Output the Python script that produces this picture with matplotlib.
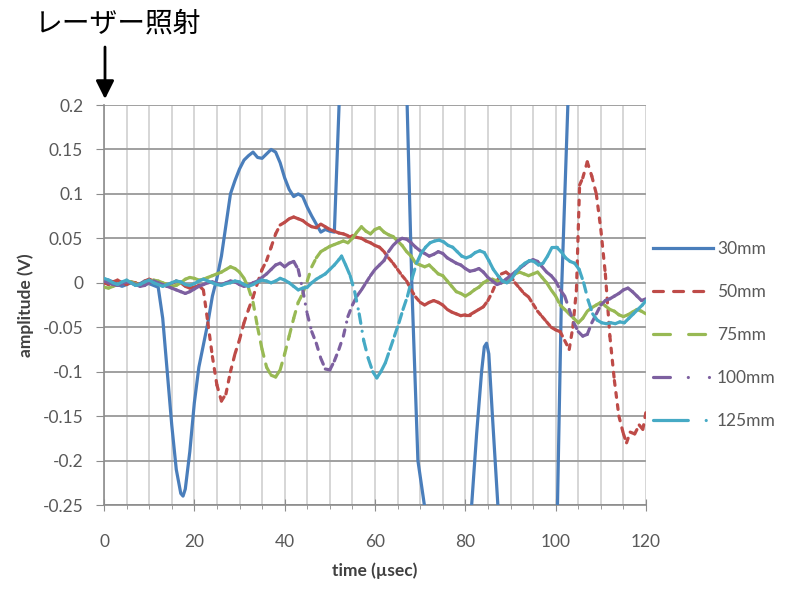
import numpy as np
import matplotlib.pyplot as plt
from matplotlib.collections import LineCollection
from matplotlib.lines import Line2D

# measured waveforms, amplitude (V) against time (usec)
t_30 = list(range(0, 17)) + [17, 17.5, 18, 19, 20, 21, 22, 23, 24, 25, 26, 27, 28, 29, 30, 31, 32, 33, 34, 35, 36,
                             37, 38, 39, 40, 41, 42, 43, 44, 45, 46, 47, 48, 49, 50, 51, 53, 66.6, 68.2, 69.5, 71.5,
                             73, 80.5, 81.4, 82.5, 83.6, 84.2, 84.7, 85.2, 86, 87.2, 88, 100, 100.4, 101.3, 102.7,
                             103.5, 120]
v_30 = [0.004, 0.003, 0.001, -0.002, -0.004, -0.002, 0.0, -0.003, -0.001, 0.002, -0.001, -0.003, -0.005, -0.04,
        -0.1, -0.16, -0.21, -0.237, -0.24, -0.232, -0.19, -0.135, -0.095, -0.07, -0.045, -0.015, 0.005, 0.03, 0.065,
        0.1, 0.115, 0.128, 0.138, 0.143, 0.147, 0.141, 0.14, 0.145, 0.15, 0.147, 0.135, 0.118, 0.105, 0.097, 0.1,
        0.097, 0.085, 0.075, 0.066, 0.057, 0.06, 0.058, 0.057, 0.33, 0.3, -0.01, -0.2, -0.27, -0.32, -0.32, -0.25,
        -0.17, -0.1, -0.072, -0.068, -0.08, -0.15, -0.25, -0.32, -0.32, -0.25, -0.01, 0.2, 0.32, 0.32]

t_50 = list(range(0, 102)) + [102, 103, 103.8, 104.6, 105.3, 106, 107, 108, 109, 110, 111, 112, 113, 114, 115,
                              115.7, 116.5, 117.5, 118.5, 119.3, 120]
v_50 = [0.0, -0.002, 0.001, 0.003, 0.0, -0.002, 0.001, 0.0, -0.003, 0.002, 0.004, 0.002, 0.0, -0.002, -0.004,
        -0.001, 0.002, 0.0, -0.004, -0.006, -0.005, -0.003, -0.008, -0.045, -0.083, -0.115, -0.133, -0.125, -0.1,
        -0.08, -0.064, -0.045, -0.03, -0.016, 0.0, 0.015, 0.025, 0.04, 0.055, 0.065, 0.068, 0.072, 0.074, 0.072,
        0.07, 0.066, 0.063, 0.062, 0.066, 0.063, 0.06, 0.058, 0.056, 0.055, 0.053, 0.053, 0.051, 0.05, 0.047, 0.045,
        0.042, 0.04, 0.035, 0.028, 0.022, 0.015, 0.008, 0.002, -0.008, -0.016, -0.022, -0.025, -0.022, -0.02,
        -0.022, -0.025, -0.03, -0.033, -0.035, -0.037, -0.036, -0.036, -0.033, -0.03, -0.027, -0.02, -0.01, 0.002,
        0.01, 0.012, 0.008, 0.0, -0.006, -0.012, -0.016, -0.024, -0.032, -0.038, -0.044, -0.05, -0.053, -0.055,
        -0.065, -0.075, -0.05, -0.008, 0.11, 0.118, 0.136, 0.12, 0.1, 0.06, 0.01, -0.06, -0.11, -0.15, -0.17,
        -0.18, -0.168, -0.17, -0.16, -0.165, -0.145]

t_75 = list(range(0, 121))
v_75 = [-0.005, -0.006, -0.004, -0.002, 0.0, 0.002, 0.001, -0.001, -0.003, -0.002, 0.0, 0.003, 0.002, 0.0, -0.002,
        -0.004, -0.003, 0.0, 0.004, 0.006, 0.005, 0.003, 0.004, 0.006, 0.008, 0.01, 0.012, 0.015, 0.018, 0.016,
        0.012, 0.005, -0.006, -0.022, -0.05, -0.075, -0.095, -0.104, -0.106, -0.098, -0.08, -0.06, -0.04, -0.022,
        -0.012, 0.002, 0.018, 0.028, 0.035, 0.038, 0.041, 0.043, 0.045, 0.047, 0.045, 0.05, 0.057, 0.063, 0.058,
        0.055, 0.06, 0.062, 0.057, 0.054, 0.052, 0.047, 0.042, 0.035, 0.03, 0.022, 0.02, 0.018, 0.02, 0.015, 0.01,
        0.008, 0.002, -0.004, -0.01, -0.012, -0.015, -0.012, -0.008, -0.005, 0.0, 0.003, 0.004, 0.002, 0.0, 0.003,
        0.006, 0.01, 0.012, 0.01, 0.008, 0.01, 0.012, 0.006, 0.0, -0.008, -0.015, -0.025, -0.03, -0.035, -0.04,
        -0.045, -0.04, -0.032, -0.028, -0.025, -0.022, -0.026, -0.03, -0.032, -0.036, -0.038, -0.036, -0.033, -0.03,
        -0.032, -0.035]

t_100 = list(range(0, 121))
v_100 = [0.002, 0.0, -0.002, -0.003, -0.001, 0.001, 0.0, -0.002, -0.004, -0.003, 0.0, 0.002, 0.0, -0.002, -0.004,
         -0.006, -0.008, -0.01, -0.012, -0.01, -0.007, -0.004, -0.002, 0.0, 0.001, -0.001, -0.002, 0.0, 0.002, 0.001,
         -0.002, -0.004, -0.003, 0.0, 0.002, 0.006, 0.01, 0.015, 0.02, 0.022, 0.018, 0.022, 0.024, 0.015, -0.008,
         -0.035, -0.055, -0.068, -0.085, -0.097, -0.098, -0.088, -0.075, -0.06, -0.038, -0.025, -0.015, -0.008, 0.0,
         0.008, 0.015, 0.02, 0.025, 0.035, 0.042, 0.047, 0.05, 0.049, 0.045, 0.04, 0.036, 0.033, 0.03, 0.032, 0.035,
         0.033, 0.028, 0.025, 0.022, 0.02, 0.016, 0.013, 0.014, 0.016, 0.012, 0.006, 0.002, -0.002, 0.0, 0.004,
         0.008, 0.012, 0.016, 0.02, 0.024, 0.026, 0.024, 0.018, 0.012, 0.008, 0.002, -0.008, -0.015, -0.03, -0.045,
         -0.055, -0.06, -0.058, -0.045, -0.035, -0.025, -0.02, -0.018, -0.015, -0.012, -0.008, -0.006, -0.01,
         -0.015, -0.02, -0.018]

t_125 = list(range(0, 53)) + [52.6, 53.5, 54.5, 55.5, 56.5, 57.5, 58.5, 59.5, 60.4, 61.3, 62.3, 63.3, 64.3, 65.3,
                              66.2, 67.2, 68.2, 69.2, 70.2, 71.2, 72.2, 73.2, 74.2, 75.2, 76.2, 77.2, 78.2, 79.2,
                              80.2, 81.2, 82.2, 83.2, 84.2, 85.2, 86.2, 87.2, 88.2, 89.2, 90.2, 91.2, 92.2, 93.2,
                              94.2, 95.2, 96.2, 97.2, 98.2, 99.2, 100.2, 101.2, 102.2, 103.2, 104.2, 105.2, 106.2,
                              107.2, 108.2, 109.2, 110.2, 111.2, 112.2, 113.2, 114.2, 115.2, 116.2, 117.2, 118.2,
                              119.2, 120]
v_125 = [0.005, 0.003, 0.0, -0.002, 0.001, 0.003, 0.0, -0.003, -0.002, 0.001, 0.003, 0.0, -0.002, -0.004, -0.002,
         0.0, 0.002, 0.001, -0.002, -0.003, -0.001, 0.002, 0.004, 0.002, 0.0, -0.002, -0.003, -0.001, 0.0, 0.002,
         0.001, -0.002, -0.004, -0.002, 0.001, 0.003, 0.002, 0.0, 0.002, 0.005, 0.003, 0.0, -0.004, -0.008, -0.006,
         -0.005, 0.0, 0.004, 0.007, 0.01, 0.015, 0.02, 0.026, 0.03, 0.02, 0.008, -0.01, -0.035, -0.065, -0.085,
         -0.1, -0.107, -0.1, -0.09, -0.075, -0.06, -0.045, -0.03, -0.015, 0.005, 0.022, 0.033, 0.04, 0.045, 0.047,
         0.048, 0.046, 0.042, 0.04, 0.035, 0.03, 0.028, 0.03, 0.034, 0.036, 0.034, 0.025, 0.015, 0.008, 0.002, 0.0,
         0.004, 0.012, 0.018, 0.022, 0.025, 0.024, 0.02, 0.022, 0.03, 0.04, 0.04, 0.035, 0.028, 0.024, 0.022, 0.015,
         0.0, -0.02, -0.035, -0.042, -0.045, -0.046, -0.045, -0.046, -0.044, -0.045, -0.04, -0.035, -0.03, -0.025,
         -0.02]

labels = ['30mm', '50mm', '75mm', '100mm', '125mm']
colors = ['#4a7ebb', '#be4b48', '#98b954', '#7d60a0', '#46aac5']
# dash patterns in units of line width (None = solid): short ones for the curves,
# longer ones for the legend keys
line_dashes = [None, (1.5, 2.3), (2.2, 2.5), (2.0, 2.5, 0.01, 2.5, 0.01, 2.5), (3.0, 2.5, 0.01, 2.5)]
key_dashes = [None, (3.1, 3.2), (5.3, 5.7), (5.3, 5.6, 0.01, 6.6, 0.01, 6), (10.9, 5.6, 0.01, 6)]
series = [(t_30, v_30), (t_50, v_50), (t_75, v_75), (t_100, v_100), (t_125, v_125)]

LW = 2.3
TXT = '#404040'
FONT = 'Lato'

fig = plt.figure(figsize=(7.9, 5.92), dpi=100)
ax = fig.add_axes([104 / 790, 87 / 592, 542 / 790, 400 / 592])

handles = []
for (t, v), col, ds, ks in zip(series, colors, line_dashes, key_dashes):
    if ds is None:
        ax.plot(t, v, color=col, lw=LW, solid_capstyle='round', solid_joinstyle='round', zorder=3)
        handles.append(Line2D([], [], color=col, lw=LW))
    else:
        # each segment restarts the dash pattern, so dense flat parts look solid
        pts = np.column_stack([t, v])
        segs = np.stack([pts[:-1], pts[1:]], axis=1)
        lc = LineCollection(segs, colors=col, linewidths=LW, linestyles=[(0, ds)],
                            capstyle='round', zorder=3)
        ax.add_collection(lc)
        handles.append(Line2D([], [], color=col, lw=LW, linestyle=(0, ks), dash_capstyle='round'))

ax.set_xlim(0, 120)
ax.set_ylim(-0.25, 0.2)
ax.set_xticks(np.arange(0, 121, 20))
ax.set_xticks(np.arange(0, 121, 5), minor=True)
yt = np.round(np.arange(-0.25, 0.201, 0.05), 2)
ax.set_yticks(yt)
ax.set_yticklabels([f'{y:g}' if y != 0 else '0' for y in yt])

ax.grid(axis='y', which='major', color='#a0a0a0', lw=1.4)
ax.grid(axis='x', which='both', color='#d0d0d0', lw=1.2)
ax.set_axisbelow(True)

for s in ['top', 'right']:
    ax.spines[s].set_visible(False)
for s in ['left', 'bottom']:
    ax.spines[s].set_color('#8c8c8c')
    ax.spines[s].set_linewidth(1.2)

ax.tick_params(axis='x', which='major', direction='inout', length=8, color='#8c8c8c', pad=17)
ax.tick_params(axis='x', which='minor', direction='out', length=3, color='#8c8c8c')
ax.tick_params(axis='y', direction='out', length=6, color='#8c8c8c', pad=9)
for lbl in ax.get_xticklabels() + ax.get_yticklabels():
    lbl.set_fontfamily(FONT)
    lbl.set_fontsize(12.5)
    lbl.set_color('#595959')

ax.set_xlabel('time (µsec)', fontsize=12.5, fontweight='bold', family=FONT, color=TXT, labelpad=9)
ax.set_ylabel('amplitude (V)', fontsize=12.5, fontweight='bold', family=FONT, color=TXT, labelpad=6)

leg = fig.legend(handles, labels, loc='upper left', bbox_to_anchor=(653 / 790, 1 - 241 / 592),
                 frameon=False, handlelength=3.45, handletextpad=0.23, labelspacing=1.56,
                 borderpad=0, borderaxespad=0, prop={'family': FONT, 'size': 12.5})
for txt in leg.get_texts():
    txt.set_color('#595959')

fig.text(35 / 790, 1 - 23 / 592, 'レーザー照射', fontsize=20, va='center', ha='left',
         family=['Noto Sans CJK JP', 'DejaVu Sans'], color='black')
ax.annotate('', xy=(105, 592 - 99), xytext=(105, 592 - 47), xycoords='figure pixels',
            textcoords='figure pixels',
            arrowprops=dict(arrowstyle='-|>,head_length=1.1,head_width=0.55', color='black', lw=2,
                            shrinkA=0, shrinkB=0))

fig.savefig('out.png', dpi=100)
